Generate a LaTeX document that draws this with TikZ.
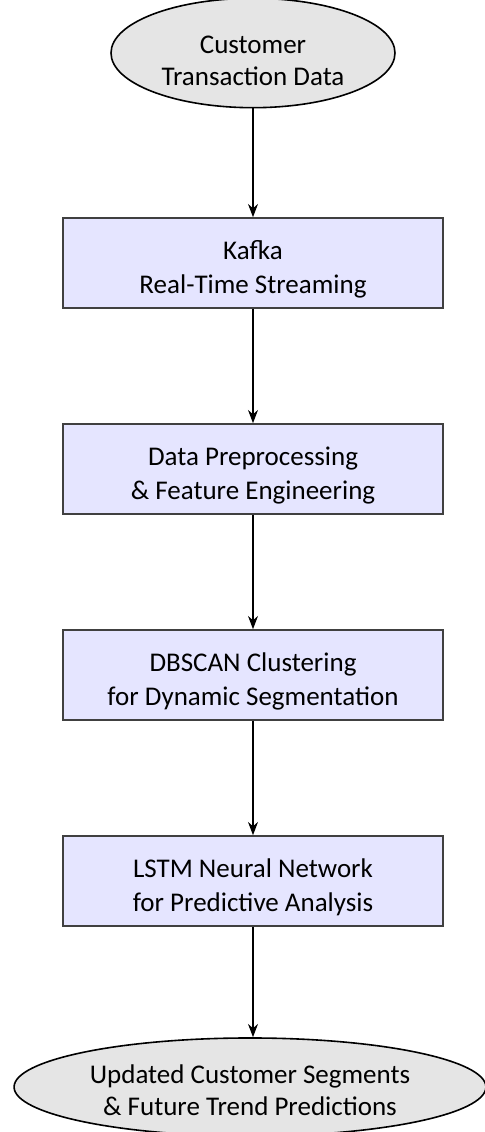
\documentclass[tikz,border=0pt]{standalone}
\usepackage{fontspec}
\setmainfont{Carlito}
\usetikzlibrary{shapes.geometric,arrows.meta}

\tikzset{
  stagebox/.style={rectangle, draw=black!75, fill=blue!10, thick,
    minimum width=190pt, minimum height=45pt, align=center,
    font=\fontsize{13.5}{17}\selectfont, text height=30pt, text depth=-6pt},
  endcap/.style={ellipse, draw=black, fill=gray!20, thick, align=center,
    font=\fontsize{13.5}{16}\selectfont},
}

\begin{document}
\begin{tikzpicture}[y=-0.5pt, x=0.5pt, >=Stealth]

\useasboundingbox (0,0) rectangle (484,1132);

\node[endcap, minimum width=142pt, minimum height=46pt, text height=32pt, text depth=-7pt] (data) at (253,53) {Customer\\Transaction Data};
\node[stagebox] (kafka) at (253,263) {Kafka\\Real-Time Streaming};
\node[stagebox] (prep) at (253,469) {Data Preprocessing\\\& Feature Engineering};
\node[stagebox] (dbscan) at (253,675) {DBSCAN Clustering\\for Dynamic Segmentation};
\node[stagebox] (lstm) at (253,881) {LSTM Neural Network\\for Predictive Analysis};
\node[endcap, minimum width=233pt, minimum height=47pt, text height=28pt, text depth=-2pt] (out) at (250,1087) {Updated Customer Segments\\\& Future Trend Predictions};

\draw[->,thick] (data) -- (kafka);
\draw[->,thick] (kafka) -- (prep);
\draw[->,thick] (prep) -- (dbscan);
\draw[->,thick] (dbscan) -- (lstm);
\draw[->,thick] (lstm) -- (lstm |- out.north);

\end{tikzpicture}
\end{document}
